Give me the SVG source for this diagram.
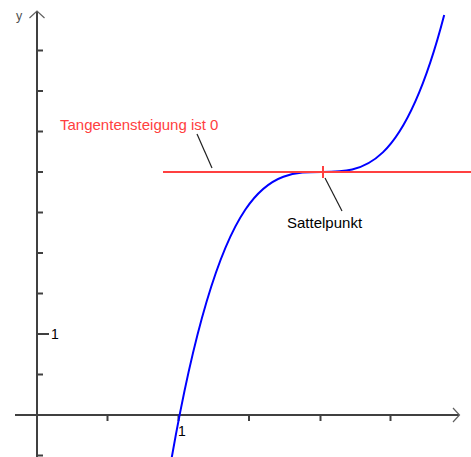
<svg xmlns="http://www.w3.org/2000/svg" width="471" height="457" viewBox="0 0 471 457">
<style>
.ax{stroke:#404040;stroke-width:2;fill:none}
.tk{stroke:#404040;stroke-width:2}
.ah{stroke:#606060;stroke-width:1.2;fill:none}
.lbl{font-family:"Liberation Sans",Arial,sans-serif;font-size:15px;fill:#000}
.num{font-family:"Liberation Sans",Arial,sans-serif;font-size:14px;fill:#000}
.red{stroke:#ff4040;stroke-width:2;fill:none}
.ptr{stroke:#202020;stroke-width:1.2;fill:none}
</style>
<rect width="471" height="457" fill="#fff"/>
<g id="axes">
  <line class="ax" x1="37" y1="11" x2="37" y2="457"/>
  <line class="ax" x1="15" y1="415" x2="459" y2="415"/>
  <polyline class="ah" points="29.5,18 37,11 44.5,18"/>
  <polyline class="ah" points="453,408 459.5,415 453,422"/>
  <g class="tk">
    <line x1="37" y1="50.5" x2="43" y2="50.5"/>
    <line x1="37" y1="91" x2="43" y2="91"/>
    <line x1="37" y1="131.5" x2="43" y2="131.5"/>
    <line x1="37" y1="172" x2="43" y2="172"/>
    <line x1="37" y1="212.5" x2="43" y2="212.5"/>
    <line x1="37" y1="253" x2="43" y2="253"/>
    <line x1="37" y1="293.5" x2="43" y2="293.5"/>
    <line x1="37" y1="334" x2="49" y2="334"/>
    <line x1="37" y1="374.5" x2="43" y2="374.5"/>
    <line x1="37" y1="455.5" x2="43" y2="455.5"/>
    <line x1="107.5" y1="415" x2="107.5" y2="421"/>
    <line x1="178.5" y1="415" x2="178.5" y2="421"/>
    <line x1="249" y1="415" x2="249" y2="421"/>
    <line x1="320.5" y1="415" x2="320.5" y2="421"/>
    <line x1="390.5" y1="415" x2="390.5" y2="421"/>
  </g>
  <text x="16" y="19.5" font-family="Liberation Sans, Arial, sans-serif" font-size="12.5" fill="#505050">y</text>
  <text class="num" x="51" y="339">1</text>
  <text class="num" x="178" y="436">1</text>
</g>
<g id="curve">
  <path d="M169,473.46 C260.73,-70.52 352.47,367.17 444.2,15" stroke="#0000ff" stroke-width="2" fill="none"/>
</g>
<g id="tangent">
  <line class="red" x1="163" y1="172" x2="471" y2="172"/>
  <line class="red" x1="323" y1="166" x2="323" y2="178"/>
</g>
<g id="label-tangent">
  <text class="lbl" x="60" y="130" fill="#ff4040" style="fill:#ff4040">Tangentensteigung ist 0</text>
</g>
<g id="label-sattel">
  <text class="lbl" x="287" y="228">Sattelpunkt</text>
</g>
<g id="connectors">
  <line class="ptr" x1="197" y1="134" x2="212" y2="168"/>
  <line class="ptr" x1="325" y1="178" x2="342" y2="211"/>
</g>
</svg>
